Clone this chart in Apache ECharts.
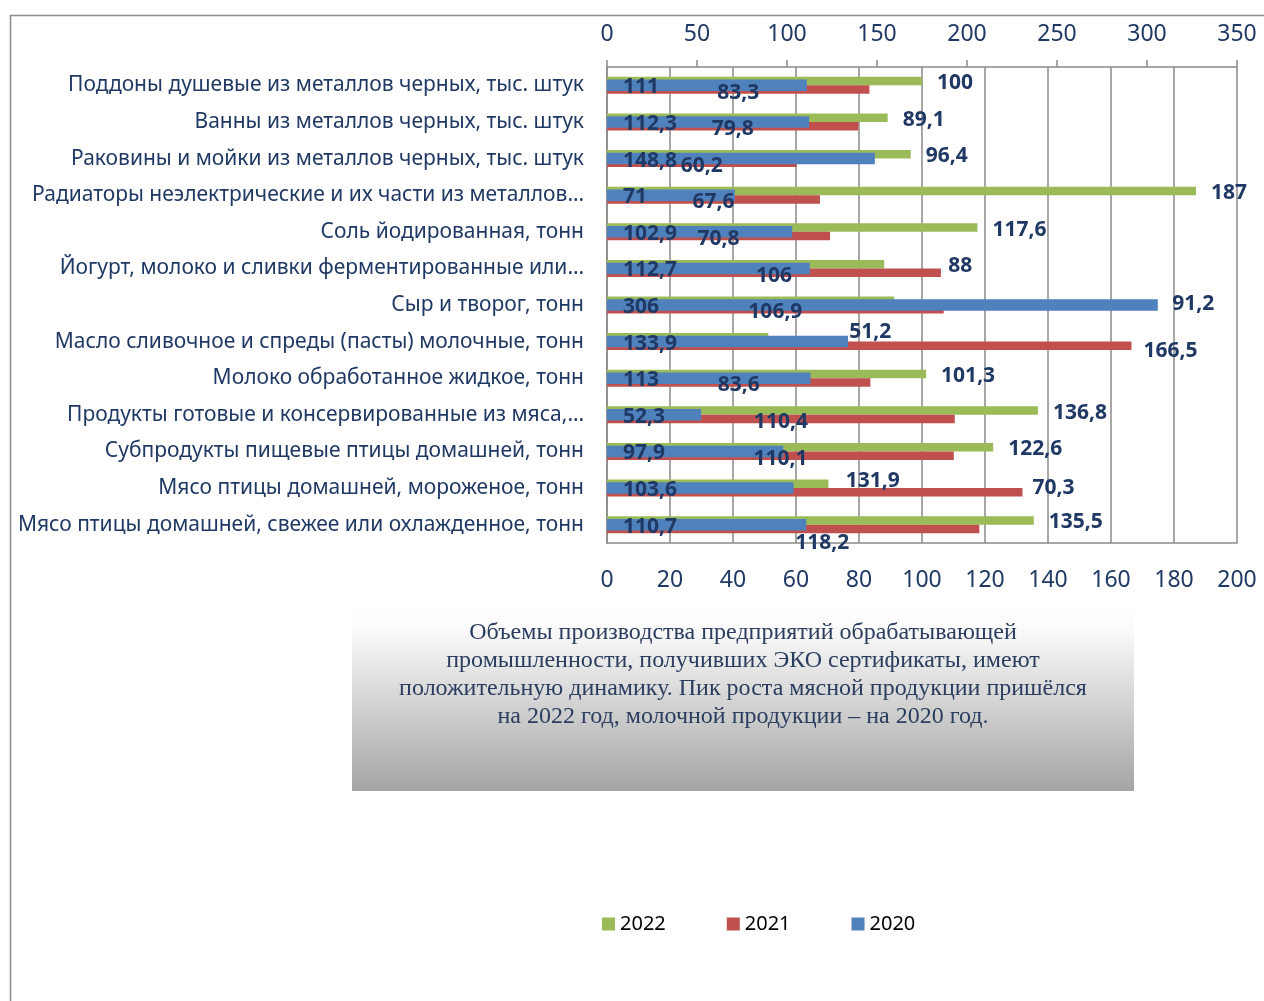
<!DOCTYPE html>
<html>
<head>
<meta charset="utf-8">
<script src="https://cdn.jsdelivr.net/npm/echarts@6/dist/echarts.min.js"></script>
<style>
html,body{margin:0;padding:0;background:#fff;}
#chart{width:1264px;height:1001px;}
</style>
</head>
<body>
<div id="chart"></div>
<script>
var categories = [
  'Поддоны душевые из металлов черных, тыс. штук',
  'Ванны из металлов черных, тыс. штук',
  'Раковины и мойки из металлов черных, тыс. штук',
  'Радиаторы неэлектрические и их части из металлов…',
  'Соль йодированная, тонн',
  'Йогурт, молоко и сливки ферментированные или…',
  'Сыр и творог, тонн',
  'Масло сливочное и спреды (пасты) молочные, тонн',
  'Молоко обработанное жидкое, тонн',
  'Продукты готовые и консервированные из мяса,…',
  'Субпродукты пищевые птицы домашней, тонн',
  'Мясо птицы домашней, мороженое, тонн',
  'Мясо птицы домашней, свежее или охлажденное, тонн'
];
var values2022 = [100, 89.1, 96.4, 187, 117.6, 88, 91.2, 51.2, 101.3, 136.8, 122.6, 70.3, 135.5];
var values2021 = [83.3, 79.8, 60.2, 67.6, 70.8, 106, 106.9, 166.5, 83.6, 110.4, 110.1, 131.9, 118.2];
var values2020 = [111, 112.3, 148.8, 71, 102.9, 112.7, 306, 133.9, 113, 52.3, 97.9, 103.6, 110.7];
var seriesNames = ['2022', '2021', '2020'];
var bottomTicks = {min: 0, max: 200, interval: 20};
var topTicks = {min: 0, max: 350, interval: 50};
var noteText = 'Объемы производства предприятий обрабатывающей\nпромышленности, получивших ЭКО сертификаты, имеют\nположительную динамику. Пик роста мясной продукции пришёлся\nна 2022 год, молочной продукции – на 2020 год.';

// label placement tweaks (as in the source picture)
var labelTweaks2022 = {5: {offset: [49, 2]}, 6: {offset: [263, 3]}, 7: {offset: [66, -5]}, 11: {offset: [189, 4]}};
var labelTweaks2021 = {7: {position: 'right', distance: 12, offset: [0, 5]}, 11: {offset: [58, -11]}, 12: {offset: [29, 14]}};

function buildItems(vals, tweaks) {
  return vals.map(function (v, i) { return tweaks[i] ? {value: v, label: tweaks[i]} : v; });
}
function fmt(p) { return String(p.value).replace('.', ','); }

var NAVY = '#1f3864';
var GRID = '#8a8a8a';
var FONT = 'Noto Sans';
var labelBase = {show: true, color: NAVY, fontFamily: FONT, fontWeight: 'bold', fontSize: 21, formatter: fmt, textBorderWidth: 0};

var chart = echarts.init(document.getElementById('chart'));
chart.setOption({
  animation: false,
  backgroundColor: '#fff',
  grid: {left: 607, right: 27, top: 67, bottom: 458, containLabel: false},
  legend: {
    data: seriesNames, left: 602, top: 914, itemWidth: 13, itemHeight: 13, itemGap: 61, icon: 'rect', padding: 0,
    textStyle: {fontFamily: FONT, fontSize: 20, color: '#000'}
  },
  xAxis: [
    {type: 'value', position: 'bottom', min: bottomTicks.min, max: bottomTicks.max, interval: bottomTicks.interval,
     axisLine: {show: true, lineStyle: {color: GRID, width: 1.5}}, axisTick: {show: false},
     splitLine: {show: true, lineStyle: {color: GRID, width: 1.5}},
     axisLabel: {color: NAVY, fontFamily: FONT, fontSize: 23, margin: 26}},
    {type: 'value', position: 'top', min: topTicks.min, max: topTicks.max, interval: topTicks.interval,
     axisLine: {show: true, lineStyle: {color: GRID, width: 1.5}},
     axisTick: {show: true, inside: false, length: 7, lineStyle: {color: GRID, width: 1.5}},
     splitLine: {show: false},
     axisLabel: {color: NAVY, fontFamily: FONT, fontSize: 23, margin: 21}}
  ],
  yAxis: [
    {type: 'category', data: categories, inverse: true,
     axisLine: {show: true, lineStyle: {color: GRID, width: 1.5}}, axisTick: {show: false},
     axisLabel: {color: NAVY, fontFamily: FONT, fontSize: 21, margin: 23, padding: [5, 0, 0, 0]}},
    {type: 'category', data: categories, inverse: true, show: false}
  ],
  series: [
    {name: '2022', type: 'bar', xAxisIndex: 0, yAxisIndex: 0, barWidth: 8.5, barGap: '0%',
     itemStyle: {color: '#9bbb59'}, data: buildItems(values2022, labelTweaks2022),
     label: Object.assign({}, labelBase, {position: 'right', distance: 15, offset: [0, 2]})},
    {name: '2021', type: 'bar', xAxisIndex: 0, yAxisIndex: 0, barWidth: 8.5, barGap: '0%',
     itemStyle: {color: '#c0504d'}, data: buildItems(values2021, labelTweaks2021),
     label: Object.assign({}, labelBase, {position: 'inside', offset: [0, 3]})},
    {name: '2020', type: 'bar', xAxisIndex: 1, yAxisIndex: 1, barWidth: 11.5,
     itemStyle: {color: '#4f81bd'}, data: values2020,
     label: Object.assign({}, labelBase, {position: 'insideLeft', distance: 16, offset: [0, 2]})}
  ],
  graphic: [
    {type: 'rect', silent: true, z: -10, shape: {x: 10.5, y: 15.5, width: 1400, height: 1200},
     style: {fill: 'none', stroke: '#8c8c8c', lineWidth: 1.5}},
    {type: 'rect', silent: true, shape: {x: 352, y: 605, width: 782, height: 186},
     style: {fill: new echarts.graphic.LinearGradient(0, 0, 0, 1, [
       {offset: 0, color: '#ffffff'}, {offset: 0.12, color: '#fbfbfb'}, {offset: 1, color: '#a5a5a5'}])}},
    {type: 'text', silent: true, left: 352, top: 619, style: {
      text: noteText, x: 391, y: 0, textAlign: 'center', width: 782,
      font: '24px "Liberation Serif", "Times New Roman", serif', lineHeight: 28, fill: '#2a3d5e'}}
  ]
});
</script>
</body>
</html>
